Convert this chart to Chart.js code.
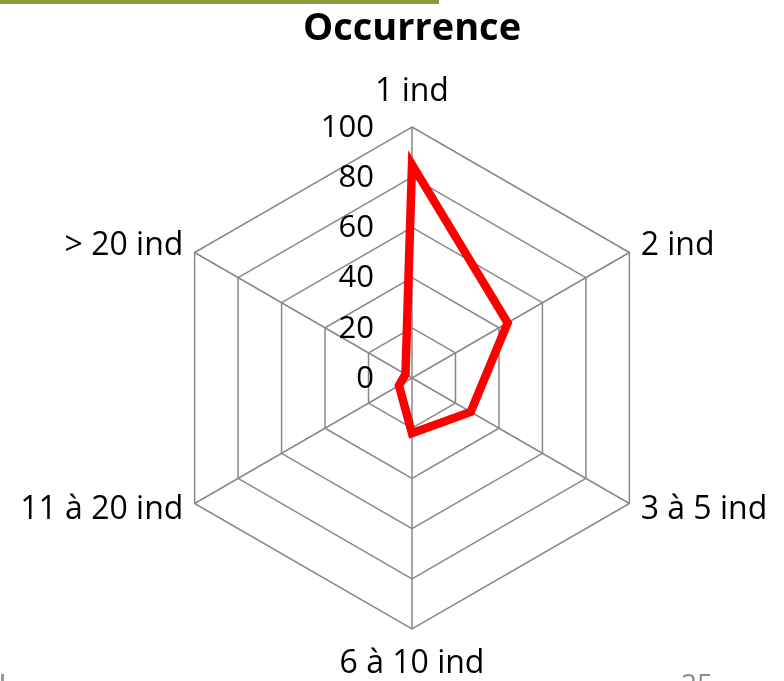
<!DOCTYPE html>
<html>
<head>
<meta charset="utf-8">
<script src="https://cdn.jsdelivr.net/npm/chart.js@4"></script>
<style>
  html, body { margin: 0; padding: 0; background: #fff; overflow: hidden; }
  #wrap { position: relative; width: 784px; height: 681px; }
  #bande { position: absolute; left: 0; top: 0; width: 439px; height: 4px; background: #8a9a3e; }
  #page { position: absolute; left: 681px; top: 664px; font: 28px "Open Sans"; color: #8c8c8c; }
  #trait { position: absolute; left: 1px; top: 674px; width: 3px; height: 7px; background: #999; }
</style>
</head>
<body>
<div id="wrap">
  <canvas id="graficoRadar" width="784" height="681"></canvas>
  <div id="bande"></div>
  <div id="page">25</div>
  <div id="trait"></div>
</div>
<script>
const categorias = ["1 ind", "2 ind", "3 à 5 ind", "6 à 10 ind", "11 à 20 ind", "> 20 ind"];
const occurrence = [85, 44, 27, 22, 6, 3];
const escala = [0, 20, 40, 60, 80, 100];

// etiquetas de la escala a la izquierda del eje (incluido el 0)
// y etiquetas de categoria centradas sobre cada vertice
const etiquetas = {
    id: "etiquetas",
    afterDraw(chart) {
        const r = chart.scales.r;
        const ctx = chart.ctx;
        ctx.save();
        ctx.fillStyle = "#000";

        ctx.font = '31px "Open Sans"';
        ctx.textAlign = "right";
        ctx.textBaseline = "middle";
        escala.forEach(v => {
            const y = r.yCenter - r.getDistanceFromCenterForValue(v);
            ctx.fillText(String(v), r.xCenter - 38, y + 1);
        });

        ctx.font = '32px "Open Sans"';
        categorias.forEach((txt, i) => {
            let p = r.getPointPosition(i, r.drawingArea + 13);
            const dx = p.x - r.xCenter;
            if (Math.abs(dx) < 1) {
                p = r.getPointPosition(i, r.drawingArea + 35);
                ctx.textAlign = "center";
            } else {
                ctx.textAlign = dx > 0 ? "left" : "right";
            }
            ctx.fillText(txt, p.x, p.y);
        });
        ctx.restore();
    }
};

new Chart(document.getElementById("graficoRadar"), {

    type: "radar",

    data: {
        labels: categorias,
        datasets: [{
            label: "Occurrence",
            data: occurrence,
            borderColor: "#ff0000",
            borderWidth: 8.5,
            pointRadius: 0,
            fill: false,
            borderJoinStyle: "miter"
        }]
    },

    options: {
        responsive: false,
        animation: false,
        layout: { padding: { top: 0, bottom: 51, left: 161, right: 121 } },
        plugins: {
            legend: { display: false },
            tooltip: { enabled: false },
            title: {
                display: true,
                text: "Occurrence",
                color: "#000",
                font: { family: "Open Sans", size: 38, weight: "bold" },
                padding: { top: 6, bottom: 76 }
            }
        },
        scales: {
            r: {
                min: 0,
                max: 100,
                ticks: { stepSize: 20, display: false },
                grid: { color: "#888888", lineWidth: 1.5 },
                angleLines: { color: "#888888", lineWidth: 1.5 },
                pointLabels: { display: false }
            }
        }
    },

    plugins: [etiquetas]

});
</script>
</body>
</html>
